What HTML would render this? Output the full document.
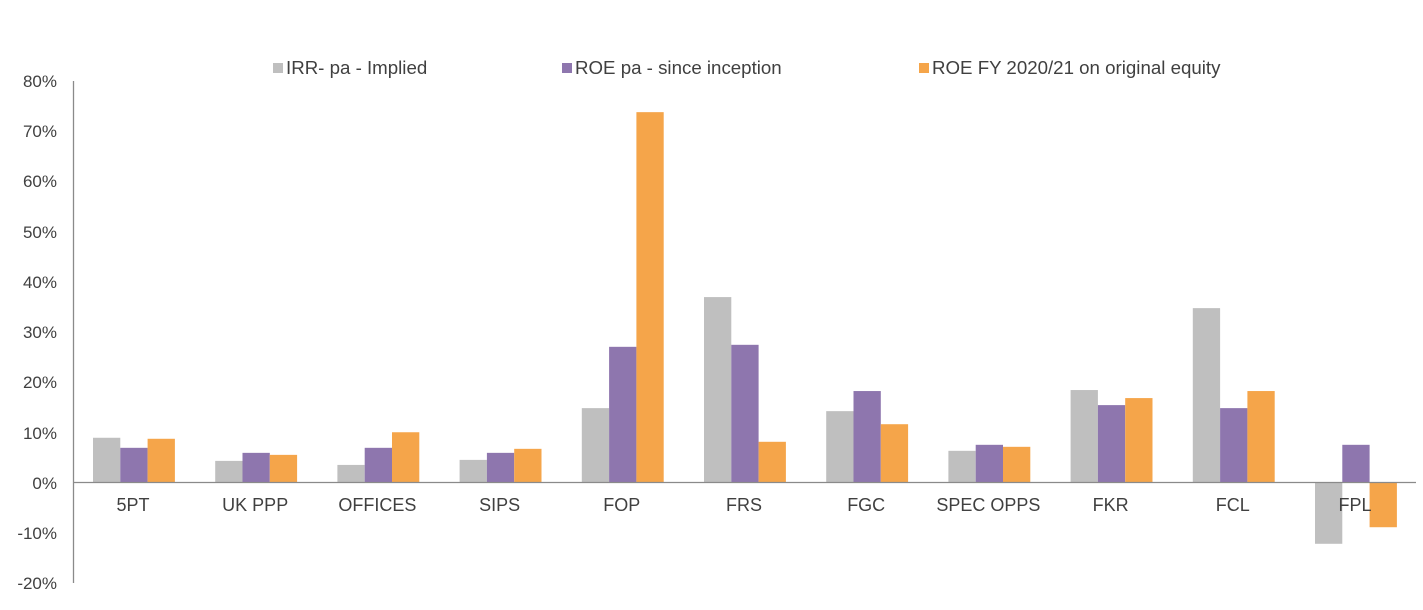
<!DOCTYPE html>
<html><head><meta charset="utf-8"><style>
html,body{margin:0;padding:0;background:#fff;}
svg text{font-family:"Liberation Sans",Arial,sans-serif;fill:#404040;}
</style></head><body>
<svg width="1423" height="605" viewBox="0 0 1423 605" xmlns="http://www.w3.org/2000/svg">
<g font-size="17" text-anchor="end">
<text x="57" y="87">80%</text>
<text x="57" y="137">70%</text>
<text x="57" y="187">60%</text>
<text x="57" y="238">50%</text>
<text x="57" y="288">40%</text>
<text x="57" y="338">30%</text>
<text x="57" y="388">20%</text>
<text x="57" y="439">10%</text>
<text x="57" y="489">0%</text>
<text x="57" y="539">-10%</text>
<text x="57" y="589">-20%</text>
</g>
<line x1="73.5" y1="81" x2="73.5" y2="583" stroke="#8a8a8a" stroke-width="1.3"/>
<g id="bars"></g>
<line x1="73" y1="482.5" x2="1416" y2="482.5" stroke="#8a8a8a" stroke-width="1.3"/>
<g font-size="18" text-anchor="middle" id="labels"></g>
<g font-size="18.7">
<rect x="273" y="63" width="10" height="10" fill="#bfbfbf"/><text x="286" y="74">IRR- pa - Implied</text>
<rect x="562" y="63" width="10" height="10" fill="#8e76ae"/><text x="575" y="74">ROE pa - since inception</text>
<rect x="919" y="63" width="10" height="10" fill="#f5a54a"/><text x="932" y="74">ROE FY 2020/21 on original equity</text>
</g>
<script>
var d=[["5PT",9.0,7.0,8.8],["UK PPP",4.4,6.0,5.6],["OFFICES",3.6,7.0,10.1],["SIPS",4.6,6.0,6.8],["FOP",14.9,27.1,73.8],["FRS",37.0,27.5,8.2],["FGC",14.3,18.3,11.7],["SPEC OPPS",6.4,7.6,7.2],["FKR",18.5,15.5,16.9],["FCL",34.8,14.9,18.3],["FPL",-12.1,7.6,-8.8]];
var c=["#bfbfbf","#8e76ae","#f5a54a"],ns="http://www.w3.org/2000/svg",b=document.getElementById("bars"),l=document.getElementById("labels");
d.forEach(function(r,i){var x0=93+i*122.2;
for(var k=0;k<3;k++){var v=r[k+1],y0=483,y=483-v*5.025,e=document.createElementNS(ns,"rect");
e.setAttribute("x",x0+k*27.3);e.setAttribute("width",27.3);e.setAttribute("y",Math.min(y,y0));e.setAttribute("height",Math.abs(y-y0));e.setAttribute("fill",c[k]);b.appendChild(e);}
var t=document.createElementNS(ns,"text");t.setAttribute("x",x0+40);t.setAttribute("y",511);t.textContent=r[0];l.appendChild(t);});
</script>
</svg>
</body></html>
